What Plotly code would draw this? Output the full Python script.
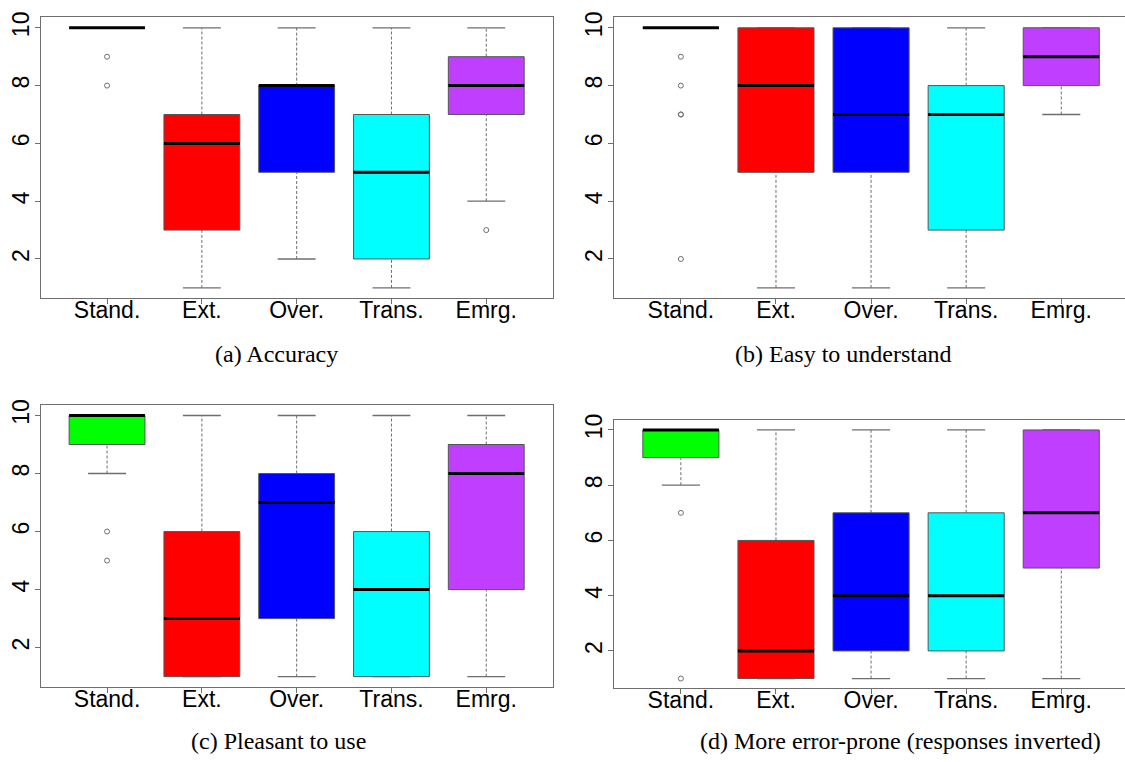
import plotly.graph_objects as go

# Methods compared in every panel
categories = ["Stand.", "Ext.", "Over.", "Trans.", "Emrg."]
fill_colors = ["#00FF00", "#FF0000", "#0000FF", "#00FFFF", "#BF3EFF"]

# Five-number summaries per method: lower whisker, Q1, median, Q3, upper whisker
accuracy_low = [10, 1, 2, 1, 4]
accuracy_q1 = [10, 3, 5, 2, 7]
accuracy_med = [10, 6, 8, 5, 8]
accuracy_q3 = [10, 7, 8, 7, 9]
accuracy_high = [10, 10, 10, 10, 10]
accuracy_out = [[9, 8], [], [], [], [3]]

easy_low = [10, 1, 1, 1, 7]
easy_q1 = [10, 5, 5, 3, 8]
easy_med = [10, 8, 7, 7, 9]
easy_q3 = [10, 10, 10, 8, 10]
easy_high = [10, 10, 10, 10, 10]
easy_out = [[9, 8, 7, 7, 2], [], [], [], []]

pleasant_low = [8, 1, 1, 1, 1]
pleasant_q1 = [9, 1, 3, 1, 4]
pleasant_med = [10, 3, 7, 4, 8]
pleasant_q3 = [10, 6, 8, 6, 9]
pleasant_high = [10, 10, 10, 10, 10]
pleasant_out = [[6, 5], [], [], [], []]

errors_low = [8, 1, 1, 1, 1]
errors_q1 = [9, 1, 2, 2, 5]
errors_med = [10, 2, 4, 4, 7]
errors_q3 = [10, 6, 7, 7, 10]
errors_high = [10, 10, 10, 10, 10]
errors_out = [[7, 1], [], [], [], []]

captions = [
    "(a) Accuracy",
    "(b) Easy to understand",
    "(c) Pleasant to use",
    "(d) More error-prone (responses inverted)",
]
y_ticks = [2, 4, 6, 8, 10]

panels = [
    (accuracy_low, accuracy_q1, accuracy_med, accuracy_q3, accuracy_high, accuracy_out),
    (easy_low, easy_q1, easy_med, easy_q3, easy_high, easy_out),
    (pleasant_low, pleasant_q1, pleasant_med, pleasant_q3, pleasant_high, pleasant_out),
    (errors_low, errors_q1, errors_med, errors_q3, errors_high, errors_out),
]

W, H = 1125, 762
# plot-area boxes in pixels: left, right, top, bottom
areas = [
    (40.7, 552.7, 11.5, 294.6),
    (614.3, 1125.0, 11.5, 294.6),
    (40.7, 552.7, 402.2, 686.5),
    (614.3, 1125.0, 417.3, 687.9),
]
px_per_unit = [94.8, 95.1, 94.8, 95.1]
caption_pos = [(276, 351), (843, 351), (278, 741), (900, 741)]

GRAY = "#6e6e6e"
BOX_EDGE = "#555555"
BOX_HALF = 0.4
CAP_HALF = 0.2

fig = go.Figure()

for p, (low, q1, med, q3, high, outs) in enumerate(panels):
    xa = "x" if p == 0 else f"x{p + 1}"
    ya = "y" if p == 0 else f"y{p + 1}"
    for i, cat in enumerate(categories):
        pos = i + 1
        # dashed whiskers
        fig.add_trace(go.Scatter(
            x=[pos, pos, None, pos, pos], y=[low[i], q1[i], None, q3[i], high[i]],
            mode="lines", line=dict(color=GRAY, width=1, dash="3px,2px"),
            xaxis=xa, yaxis=ya, hoverinfo="skip", showlegend=False))
        # whisker caps
        fig.add_trace(go.Scatter(
            x=[pos - CAP_HALF, pos + CAP_HALF, None, pos - CAP_HALF, pos + CAP_HALF],
            y=[low[i], low[i], None, high[i], high[i]],
            mode="lines", line=dict(color=GRAY, width=1.3),
            xaxis=xa, yaxis=ya, hoverinfo="skip", showlegend=False))
        # box from Q1 to Q3
        fig.add_trace(go.Scatter(
            x=[pos - BOX_HALF, pos + BOX_HALF, pos + BOX_HALF, pos - BOX_HALF, pos - BOX_HALF],
            y=[q1[i], q1[i], q3[i], q3[i], q1[i]],
            mode="lines", fill="toself", fillcolor=fill_colors[i],
            line=dict(color=BOX_EDGE, width=1),
            xaxis=xa, yaxis=ya, hoverinfo="skip", showlegend=False))
        # median bar
        fig.add_trace(go.Scatter(
            x=[pos - BOX_HALF, pos + BOX_HALF], y=[med[i], med[i]],
            mode="lines", line=dict(color="black", width=3),
            xaxis=xa, yaxis=ya, hoverinfo="skip", showlegend=False))
        # outliers
        if outs[i]:
            fig.add_trace(go.Scatter(
                x=[pos] * len(outs[i]), y=outs[i], mode="markers",
                marker=dict(symbol="circle-open", size=5, color=GRAY, line=dict(width=1)),
                xaxis=xa, yaxis=ya, hoverinfo="skip", showlegend=False))

tick_font = dict(family="Liberation Sans, Arial, sans-serif", size=23, color="black")

layout = dict(
    width=W, height=H, autosize=False,
    margin=dict(l=0, r=0, t=0, b=0),
    paper_bgcolor="white", plot_bgcolor="white",
    showlegend=False,
)

for p, (l, r, t, b) in enumerate(areas):
    sfx = "" if p == 0 else str(p + 1)
    right_panel = p in (1, 3)
    x_hi = 0.3 + (r - l) / px_per_unit[p]
    layout["xaxis" + sfx] = dict(
        domain=[l / W, r / W], range=[0.3, x_hi], anchor="y" + sfx,
        tickmode="array", tickvals=[1, 2, 3, 4, 5], ticktext=categories,
        ticks="outside", ticklen=5, tickcolor=GRAY, tickwidth=1,
        ticklabelstandoff=-14,
        showline=True, linecolor=GRAY, linewidth=1, mirror=True,
        showgrid=False, zeroline=False, tickfont=tick_font, fixedrange=True,
    )
    layout["yaxis" + sfx] = dict(
        domain=[1 - b / H, 1 - t / H], range=[0.64, 10.36], anchor="x" + sfx,
        tickmode="array", tickvals=y_ticks, ticktext=[str(v) for v in y_ticks],
        tickangle=-90, ticklabelstandoff=-3,
        ticks="outside", ticklen=5, tickcolor=GRAY, tickwidth=1,
        showline=True, linecolor=GRAY, linewidth=1, mirror=not right_panel,
        showgrid=False, zeroline=False, tickfont=tick_font, fixedrange=True,
    )

annotations = []
for cap, (cx, cy) in zip(captions, caption_pos):
    annotations.append(dict(
        text=cap, x=cx / W, y=1 - cy / H, xref="paper", yref="paper",
        xanchor="center", yanchor="middle", showarrow=False,
        font=dict(family="Liberation Serif, DejaVu Serif, serif", size=24, color="black"),
    ))
layout["annotations"] = annotations

fig.update_layout(**layout)
fig.write_html("out.html")
